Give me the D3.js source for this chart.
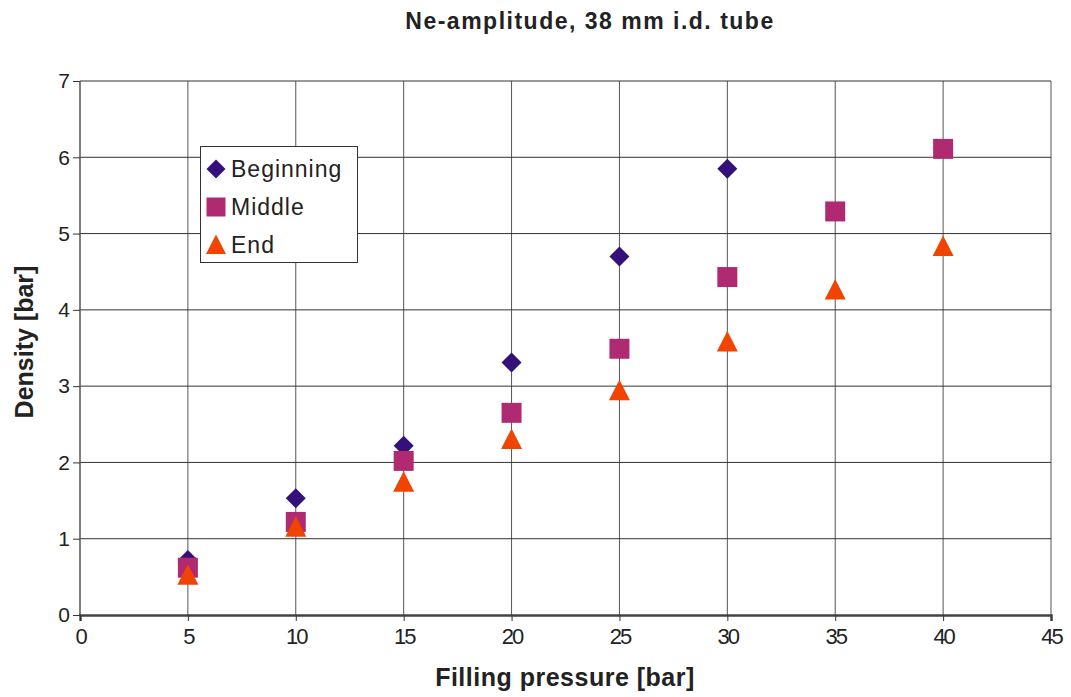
<!DOCTYPE html>
<html><head><meta charset="utf-8">
<script src="https://cdn.jsdelivr.net/npm/d3@7"></script>
<style>body{margin:0;background:#fff;}svg{display:block;font-family:"Liberation Sans",Arial,sans-serif;}</style>
</head><body><svg id="c" width="1071" height="697"></svg>
<script>
const pressureBeginning = [5, 10, 15, 20, 25, 30];
const densityBeginning = [0.72, 1.53, 2.22, 3.31, 4.70, 5.85];
const pressureMiddle = [5, 10, 15, 20, 25, 30, 35, 40];
const densityMiddle = [0.62, 1.22, 2.02, 2.65, 3.49, 4.43, 5.29, 6.11];
const pressureEnd = [5, 10, 15, 20, 25, 30, 35, 40];
const densityEnd = [0.52, 1.15, 1.74, 2.30, 2.94, 3.58, 4.26, 4.83];
const xTicks = [0, 5, 10, 15, 20, 25, 30, 35, 40, 45];
const yTicks = [0, 1, 2, 3, 4, 5, 6, 7];
const seriesNames = ["Beginning", "Middle", "End"];
const seriesColors = ["#33107a", "#b02a72", "#f04400"];

const svg = d3.select("#c");
const L = 80, R = 1051, T = 81, B = 615;
const x = d3.scaleLinear().domain([0, 45]).range([L, R]);
const y = d3.scaleLinear().domain([0, 7]).range([B, T]);

// grid
const g = svg.append("g");
g.selectAll("line.v").data(xTicks.slice(1)).enter().append("line")
  .attr("x1", d => x(d)).attr("x2", d => x(d)).attr("y1", T).attr("y2", B)
  .attr("stroke", "#555").attr("stroke-width", 1);
g.selectAll("line.h").data(yTicks.slice(1)).enter().append("line")
  .attr("x1", L).attr("x2", R).attr("y1", d => y(d)).attr("y2", d => y(d))
  .attr("stroke", "#333").attr("stroke-width", 1);
svg.append("line").attr("x1", L).attr("x2", L).attr("y1", T).attr("y2", B).attr("stroke", "#555").attr("stroke-width", 1.5);

// axes
const xAxis = d3.axisBottom(x).tickValues(xTicks).tickFormat(d3.format("d")).tickSize(6).tickPadding(5);
const gx = svg.append("g").attr("transform", `translate(0,${B})`).call(xAxis);
gx.select(".domain").attr("stroke", "#444").attr("stroke-width", 2.5);
gx.selectAll(".tick line").attr("stroke", "#333");
gx.selectAll("text").attr("font-size", 22).attr("fill", "#222").attr("dy", "0.8em").style("letter-spacing", "-2px");

const yAxis = d3.axisLeft(y).tickValues(yTicks).tickFormat(d3.format("d")).tickSize(7).tickPadding(3);
const gy = svg.append("g").attr("transform", `translate(${L},0)`).call(yAxis);
gy.select(".domain").remove();
gy.selectAll(".tick line").attr("stroke", "#333");
gy.selectAll("text").attr("font-size", 21).attr("fill", "#222");

function shape(i) {
  if (i === 0) return "M0,-10L10,0L0,10L-10,0Z";
  if (i === 1) return "M-10,-10H10V10H-10Z";
  return "M0,-11L10.5,9.5H-10.5Z";
}
const data = [
  pressureBeginning.map((p, i) => ({p, d: densityBeginning[i]})),
  pressureMiddle.map((p, i) => ({p, d: densityMiddle[i]})),
  pressureEnd.map((p, i) => ({p, d: densityEnd[i]}))
];
data.forEach((arr, si) => {
  svg.append("g").selectAll("path").data(arr).enter().append("path")
    .attr("d", shape(si))
    .attr("transform", d => `translate(${x(d.p)},${y(d.d)})`)
    .attr("fill", seriesColors[si]);
});

// legend
const lg = svg.append("g");
lg.append("rect").attr("x", 200.5).attr("y", 146.5).attr("width", 157).attr("height", 116)
  .attr("fill", "#fff").attr("stroke", "#333").attr("stroke-width", 1);
const legY = [169, 207, 245];
seriesNames.forEach((n, i) => {
  lg.append("path").attr("d", shape(i)).attr("transform", `translate(216,${legY[i]}) scale(0.95)`).attr("fill", seriesColors[i]);
  lg.append("text").attr("x", 231).attr("y", legY[i] + 8).attr("font-size", 23).attr("fill", "#222")
    .style("letter-spacing", "1px").text(n);
});

// titles
svg.append("text").attr("x", 590).attr("y", 29).attr("text-anchor", "middle")
  .attr("font-size", 23).attr("font-weight", "bold").attr("fill", "#222").style("letter-spacing", "1.5px")
  .text("Ne-amplitude, 38 mm i.d. tube");
svg.append("text").attr("x", 565).attr("y", 686).attr("text-anchor", "middle")
  .attr("font-size", 25).attr("font-weight", "bold").attr("fill", "#222").style("letter-spacing", "0.5px")
  .text("Filling pressure [bar]");
svg.append("text").attr("transform", "translate(33,342) rotate(-90)").attr("text-anchor", "middle")
  .attr("font-size", 25).attr("font-weight", "bold").attr("fill", "#222").text("Density [bar]");
</script></body></html>
